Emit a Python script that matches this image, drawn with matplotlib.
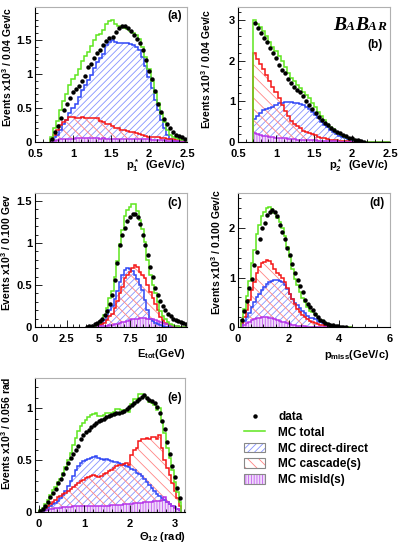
import numpy as np
import matplotlib
matplotlib.use("Agg")
import matplotlib.pyplot as plt
from matplotlib.lines import Line2D
from matplotlib.patches import Patch
from matplotlib.ticker import MultipleLocator, FuncFormatter

plt.rcParams['font.family'] = ['Liberation Sans', 'DejaVu Sans']
plt.rcParams['font.weight'] = 'bold'
plt.rcParams['mathtext.fontset'] = 'custom'
plt.rcParams['mathtext.rm'] = 'Liberation Sans:bold'
plt.rcParams['mathtext.it'] = 'Liberation Sans:italic:bold'
plt.rcParams['mathtext.bf'] = 'Liberation Sans:bold'
plt.rcParams['hatch.linewidth'] = 0.6

GREEN = '#5ee61e'
BLUE, BLUE_H = '#2f46f5', '#8592ff'
RED, RED_H = '#f51616', '#ff8585'
VIOL, VIOL_H = '#b634e8', '#c45ef0'

# ---- (a) p1*  : bins of 0.04 from 0.70
p1_lo, p1_w = 0.70, 0.04
p1_data = [0.05, 0.14, 0.23, 0.35, 0.47, 0.56, 0.65, 0.73, 0.78, 0.83,
           0.90, 0.97, 1.10, 1.15, 1.23, 1.31, 1.36, 1.42, 1.48, 1.53,
           1.55, 1.62, 1.67, 1.71, 1.70, 1.67, 1.63, 1.58, 1.52, 1.45,
           1.36, 1.20, 1.04, 0.92, 0.75, 0.56, 0.44, 0.34, 0.26, 0.20,
           0.15, 0.11, 0.09, 0.07, 0.05]
p1_dd = [0.04, 0.08, 0.10, 0.18, 0.26, 0.33, 0.42, 0.50, 0.56, 0.66,
         0.76, 0.84, 0.91, 0.99, 1.09, 1.17, 1.23, 1.30, 1.42, 1.47,
         1.50, 1.47, 1.45, 1.46, 1.46, 1.45, 1.44, 1.43, 1.40, 1.35,
         1.25, 1.12, 0.96, 0.79, 0.62, 0.47, 0.32, 0.20, 0.11, 0.05,
         0.02, 0.01, 0.0, 0.0, 0.0]
p1_casc = [0.03, 0.10, 0.18, 0.25, 0.30, 0.33, 0.37, 0.37, 0.36, 0.36,
           0.37, 0.36, 0.35, 0.36, 0.35, 0.35, 0.31, 0.29, 0.27, 0.26,
           0.24, 0.21, 0.20, 0.18, 0.17, 0.16, 0.15, 0.14, 0.13, 0.12,
           0.10, 0.09, 0.08, 0.08, 0.07, 0.07, 0.06, 0.06, 0.05, 0.04,
           0.04, 0.03, 0.03, 0.02, 0.02]
p1_misid = [0.01, 0.02, 0.03, 0.04, 0.04, 0.05, 0.05, 0.05, 0.06, 0.06,
            0.06, 0.06, 0.06, 0.06, 0.06, 0.06, 0.05, 0.06, 0.05, 0.05,
            0.05, 0.05, 0.05, 0.05, 0.05, 0.05, 0.04, 0.04, 0.04, 0.04,
            0.04, 0.04, 0.04, 0.03, 0.03, 0.03, 0.03, 0.03, 0.02, 0.02,
            0.02, 0.02, 0.01, 0.01, 0.01]

# ---- (b) p2*  : bins of 0.04 from 0.70
p2_lo, p2_w = 0.70, 0.04
p2_data = [2.92, 2.80, 2.69, 2.56, 2.45, 2.32, 2.20, 2.06, 1.90, 1.78,
           1.69, 1.56, 1.46, 1.35, 1.28, 1.24, 1.12, 1.02, 0.92, 0.82,
           0.72, 0.62, 0.54, 0.46, 0.41, 0.35, 0.30, 0.25, 0.21, 0.18,
           0.14, 0.11, 0.09, 0.06, 0.04, 0.02, 0.01, 0, 0, 0,
           0, 0, 0, 0, 0]
p2_dd = [0.57, 0.64, 0.72, 0.79, 0.82, 0.84, 0.87, 0.90, 0.95, 0.97,
         0.99, 0.99, 0.98, 0.97, 0.95, 0.94, 0.91, 0.87, 0.82, 0.73,
         0.66, 0.58, 0.50, 0.43, 0.36, 0.30, 0.24, 0.19, 0.15, 0.12,
         0.09, 0.07, 0.05, 0.03, 0.02, 0.01, 0, 0, 0, 0,
         0, 0, 0, 0, 0]
p2_casc = [2.20, 2.05, 1.93, 1.80, 1.65, 1.50, 1.35, 1.24, 1.07, 0.92,
           0.76, 0.63, 0.52, 0.45, 0.40, 0.34, 0.28, 0.24, 0.21, 0.19,
           0.16, 0.13, 0.10, 0.09, 0.07, 0.06, 0.05, 0.04, 0.03, 0.03,
           0.02, 0.02, 0.01, 0.01, 0.01, 0, 0, 0, 0, 0,
           0, 0, 0, 0, 0]
p2_misid = [0.22, 0.20, 0.17, 0.15, 0.14, 0.13, 0.12, 0.11, 0.10, 0.09,
            0.09, 0.08, 0.07, 0.07, 0.06, 0.06, 0.05, 0.05, 0.04, 0.04,
            0.04, 0.03, 0.03, 0.03, 0.02, 0.02, 0.02, 0.02, 0.01, 0.01,
            0.01, 0.01, 0.01, 0, 0, 0, 0, 0, 0, 0,
            0, 0, 0, 0, 0]

# ---- (c) Etot : bins of 0.2 from 4.0
et_lo, et_w = 4.0, 0.2
et_data = [0.003, 0.008, 0.015, 0.03, 0.045, 0.07, 0.10, 0.14, 0.19, 0.27,
           0.38, 0.56, 0.76, 0.98, 1.09, 1.18, 1.26, 1.31, 1.34, 1.35,
           1.31, 1.23, 1.10, 0.98, 0.86, 0.72, 0.59, 0.47, 0.38, 0.31,
           0.25, 0.20, 0.16, 0.13, 0.10, 0.085, 0.07, 0.055, 0.045, 0.04]
et_dd = [0, 0, 0.003, 0.006, 0.01, 0.02, 0.04, 0.08, 0.13, 0.20,
         0.25, 0.33, 0.43, 0.54, 0.62, 0.68, 0.70, 0.69, 0.67, 0.62,
         0.57, 0.50, 0.44, 0.32, 0.20, 0.10, 0.07, 0.05, 0.03, 0.02,
         0.01, 0.005, 0, 0, 0, 0, 0, 0, 0, 0]
et_casc = [0, 0, 0.002, 0.005, 0.01, 0.02, 0.03, 0.05, 0.08, 0.13,
           0.16, 0.23, 0.31, 0.40, 0.48, 0.58, 0.62, 0.66, 0.70, 0.74,
           0.71, 0.66, 0.62, 0.58, 0.50, 0.42, 0.34, 0.27, 0.20, 0.12,
           0.08, 0.05, 0.03, 0.02, 0.01, 0.005, 0, 0, 0, 0]
et_misid = [0, 0, 0, 0.002, 0.004, 0.006, 0.008, 0.01, 0.014, 0.018,
            0.022, 0.03, 0.04, 0.045, 0.055, 0.06, 0.07, 0.08, 0.09, 0.10,
            0.10, 0.11, 0.11, 0.11, 0.10, 0.10, 0.09, 0.08, 0.07, 0.055,
            0.045, 0.035, 0.03, 0.02, 0.015, 0.01, 0.006, 0.004, 0.002, 0.001]

# ---- (d) pmiss : bins of 0.1 from 0.1
pm_lo, pm_w = 0.1, 0.1
pm_data = [0.14, 0.32, 0.52, 0.78, 0.98, 1.25, 1.52, 1.78, 2.00, 2.10,
           2.26, 2.32, 2.36, 2.32, 2.24, 2.06, 1.93, 1.78, 1.60, 1.45,
           1.27, 1.10, 0.95, 0.82, 0.70, 0.55, 0.46, 0.40, 0.34, 0.26,
           0.20, 0.15, 0.12, 0.09, 0.07, 0.05, 0.04, 0.03, 0.02, 0.01,
           0.005, 0.003, 0, 0]
pm_dd = [0.04, 0.12, 0.20, 0.28, 0.40, 0.50, 0.60, 0.66, 0.74, 0.80,
         0.86, 0.90, 0.93, 0.95, 0.96, 0.94, 0.90, 0.84, 0.76, 0.67,
         0.57, 0.48, 0.44, 0.38, 0.33, 0.28, 0.23, 0.19, 0.18, 0.16,
         0.13, 0.10, 0.08, 0.06, 0.04, 0.03, 0.02, 0.01, 0.005, 0,
         0, 0, 0, 0]
pm_casc = [0.08, 0.20, 0.35, 0.55, 0.75, 0.90, 1.10, 1.22, 1.30, 1.32,
           1.35, 1.33, 1.27, 1.18, 1.10, 1.05, 1.00, 0.90, 0.78, 0.67,
           0.56, 0.46, 0.37, 0.30, 0.24, 0.20, 0.16, 0.13, 0.11, 0.09,
           0.07, 0.05, 0.04, 0.03, 0.02, 0.01, 0.01, 0.005, 0, 0,
           0, 0, 0, 0]
pm_misid = [0.02, 0.05, 0.08, 0.11, 0.14, 0.16, 0.18, 0.19, 0.20, 0.20,
            0.20, 0.19, 0.18, 0.17, 0.15, 0.13, 0.11, 0.10, 0.08, 0.07,
            0.05, 0.04, 0.03, 0.03, 0.02, 0.02, 0.01, 0.01, 0.005, 0.005,
            0, 0, 0, 0, 0, 0, 0, 0, 0, 0,
            0, 0, 0, 0]

# ---- (e) theta12 : bins of 0.056 from 0
th_lo, th_w = 0.0, 0.056
th_data = [0.01, 0.03, 0.06, 0.10, 0.14, 0.18, 0.22, 0.28, 0.32, 0.37,
           0.42, 0.47, 0.52, 0.56, 0.60, 0.64, 0.70, 0.74, 0.77, 0.79,
           0.82, 0.84, 0.86, 0.88, 0.89, 0.90, 0.91, 0.92, 0.93, 0.94,
           0.95, 0.95, 0.96, 0.97, 0.99, 1.01, 1.03, 1.05, 1.07, 1.09,
           1.11, 1.13, 1.10, 1.08, 1.07, 1.05, 1.01, 0.95, 0.88, 0.80,
           0.67, 0.56, 0.44, 0.34, 0.23, 0.13]
th_dd = [0.005, 0.01, 0.02, 0.04, 0.06, 0.08, 0.09, 0.11, 0.13, 0.16,
         0.20, 0.25, 0.30, 0.35, 0.40, 0.44, 0.47, 0.49, 0.50, 0.51,
         0.52, 0.53, 0.54, 0.52, 0.51, 0.50, 0.51, 0.50, 0.49, 0.48,
         0.48, 0.47, 0.46, 0.45, 0.44, 0.43, 0.41, 0.40, 0.38, 0.37,
         0.35, 0.32, 0.29, 0.26, 0.23, 0.20, 0.17, 0.15, 0.13, 0.12,
         0.10, 0.08, 0.06, 0.05, 0.03, 0.02]
th_casc = [0.01, 0.02, 0.04, 0.06, 0.08, 0.10, 0.12, 0.14, 0.15, 0.17,
           0.18, 0.20, 0.22, 0.24, 0.26, 0.28, 0.30, 0.31, 0.33, 0.34,
           0.35, 0.36, 0.35, 0.34, 0.35, 0.37, 0.38, 0.39, 0.40, 0.42,
           0.44, 0.45, 0.45, 0.46, 0.47, 0.45, 0.55, 0.60, 0.62, 0.68,
           0.70, 0.70, 0.71, 0.70, 0.72, 0.72, 0.70, 0.74, 0.62, 0.50,
           0.42, 0.36, 0.28, 0.20, 0.13, 0.06]
th_misid = [0.005, 0.01, 0.015, 0.02, 0.025, 0.03, 0.035, 0.04, 0.04, 0.045,
            0.05, 0.05, 0.05, 0.055, 0.055, 0.06, 0.06, 0.06, 0.06, 0.06,
            0.06, 0.055, 0.06, 0.06, 0.06, 0.06, 0.06, 0.06, 0.065, 0.065,
            0.07, 0.07, 0.07, 0.075, 0.075, 0.08, 0.08, 0.085, 0.085, 0.09,
            0.09, 0.095, 0.10, 0.10, 0.10, 0.11, 0.11, 0.11, 0.12, 0.14,
            0.10, 0.08, 0.06, 0.04, 0.03, 0.02]

W, H = 398, 545


def px(x, y):
    return x / W, 1 - y / H


fmt = FuncFormatter(lambda v, p: '%g' % round(v, 3))


def draw(ax, lo, w, data, dd, casc, misid):
    data, dd, casc, misid = map(np.asarray, (data, dd, casc, misid))
    edges = lo + w * np.arange(len(data) + 1)
    centers = edges[:-1] + w / 2
    total = dd + casc + misid
    ax.stairs(dd, edges, fill=True, facecolor='white', edgecolor=BLUE_H,
              hatch='/////', lw=0)
    ax.stairs(casc, edges, fill=True, facecolor='none', edgecolor=RED_H,
              hatch='\\\\\\', lw=0)
    ax.stairs(misid, edges, fill=True, color='#f0dcfa', lw=0)
    ax.stairs(misid, edges, fill=True, facecolor='none', edgecolor=VIOL_H,
              hatch='||||||', lw=0)
    ax.stairs(dd, edges, color=BLUE, lw=1.1)
    ax.stairs(casc, edges, color=RED, lw=1.1)
    ax.stairs(misid, edges, color=VIOL, lw=1.1)
    ax.stairs(total, edges, color=GREEN, lw=1.1)
    m = data > 0
    ax.plot(centers[m], data[m], 'o', color='black', ms=3.2, mew=0, zorder=5)


def style(ax, xlim, ylim, xmaj, xmin, ymaj, ymin):
    ax.set_xlim(*xlim)
    ax.set_ylim(*ylim)
    ax.xaxis.set_major_locator(MultipleLocator(xmaj))
    ax.xaxis.set_minor_locator(MultipleLocator(xmin))
    ax.yaxis.set_major_locator(MultipleLocator(ymaj))
    ax.yaxis.set_minor_locator(MultipleLocator(ymin))
    ax.xaxis.set_major_formatter(fmt)
    ax.yaxis.set_major_formatter(fmt)
    ax.tick_params(which='both', direction='in', top=False, right=False,
                   labelsize=8, width=0.6)
    ax.tick_params(which='major', length=5)
    ax.tick_params(which='minor', length=2.5)
    ax.tick_params(axis='x', pad=5)
    ax.tick_params(axis='y', pad=2)
    for s in ('left', 'bottom'):
        ax.spines[s].set_linewidth(0.8)
    for s in ('top', 'right'):
        ax.spines[s].set_color('#b0b0b0')
        ax.spines[s].set_linewidth(0.8)
    for s in ax.spines.values():
        s.set_zorder(6)


fig = plt.figure(figsize=(W / 100, H / 100), dpi=100)

ax_a = fig.add_axes([35 / W, 1 - 142 / H, 152 / W, 135 / H])
draw(ax_a, p1_lo, p1_w, p1_data, p1_dd, p1_casc, p1_misid)
style(ax_a, (0.5, 2.5), (0, 1.985), 0.5, 0.1, 0.5, 0.1)

ax_b = fig.add_axes([238 / W, 1 - 142 / H, 152 / W, 135 / H])
draw(ax_b, p2_lo, p2_w, p2_data, p2_dd, p2_casc, p2_misid)
style(ax_b, (0.5, 2.5), (0, 3.32), 0.5, 0.1, 1, 0.2)

ax_c = fig.add_axes([35 / W, 1 - 327 / H, 152 / W, 134 / H])
draw(ax_c, et_lo, et_w, et_data, et_dd, et_casc, et_misid)
style(ax_c, (0, 12), (0, 1.595), 2.5, 0.5, 0.5, 0.1)

ax_d = fig.add_axes([238 / W, 1 - 327 / H, 152 / W, 134 / H])
draw(ax_d, pm_lo, pm_w, pm_data, pm_dd, pm_casc, pm_misid)
style(ax_d, (0, 6), (0, 2.71), 2, 0.5, 1, 0.2)

ax_e = fig.add_axes([35 / W, 1 - 512 / H, 150 / W, 134 / H])
draw(ax_e, th_lo, th_w, th_data, th_dd, th_casc, th_misid)
style(ax_e, (-0.09, 3.22), (0, 1.29), 1, 0.2, 0.5, 0.1)

# axis titles
ylabels = [(7, 7, 'Events x10$^3$ / 0.04 Gev/c'),
           (206, 9, 'Events x10$^3$ / 0.04 Gev/c'),
           (6, 193, 'Events x10$^3$ / 0.100 Gev'),
           (216, 189, 'Events x10$^3$ / 0.100 Gev/c'),
           (6, 376, 'Events x10$^3$ / 0.056 rad')]
for x, y, s in ylabels:
    fig.text(*px(x, y), s, rotation=90, ha='center', va='top', fontsize=7.5)

xlabels = [(186, 166, 'p$_1^*$  (GeV/c)'),
           (389, 166, 'p$_2^*$  (GeV/c)'),
           (186, 354, 'E$_{\\rm tot}$(GeV)'),
           (389, 355, 'p$_{\\rm miss}$(GeV/c)'),
           (186, 537, '\u0398$_{12}$ (rad)')]
for x, y, s in xlabels:
    fig.text(*px(x, y), s, ha='right', va='center', fontsize=8)

for x, y, s in [(182, 16, '(a)'), (383, 45, '(b)'), (182, 203, '(c)'),
                (385, 203, '(d)'), (182, 398, '(e)')]:
    fig.text(*px(x, y), s, ha='right', va='center', fontsize=8.5)

# BaBar logo
renderer = fig.canvas.get_renderer()
xl, yl = px(333, 30)
for ch, sz in [('B', 14), ('A', 9.5), ('B', 14), ('A', 9.5), ('R', 9.5)]:
    t = fig.text(xl, yl, ch, fontsize=sz, family='Liberation Serif',
                 style='italic', weight='bold', va='baseline')
    bb = t.get_window_extent(renderer)
    xl = bb.x1 / fig.bbox.width

# legend
handles = [
    Line2D([], [], ls='none', marker='o', color='black', ms=3.2, mew=0),
    Line2D([], [], color=GREEN, lw=1.1),
    (Patch(facecolor='white', edgecolor=BLUE_H, hatch='/////', lw=0),
     Patch(facecolor='none', edgecolor='#888888', lw=0.8)),
    (Patch(facecolor='white', edgecolor=RED_H, hatch='\\\\\\', lw=0),
     Patch(facecolor='none', edgecolor='#888888', lw=0.8)),
    (Patch(facecolor='#f0dcfa', edgecolor=VIOL_H, hatch='||||||', lw=0),
     Patch(facecolor='none', edgecolor='#888888', lw=0.8)),
]
labels = ['data', 'MC total', 'MC direct-direct', 'MC cascade(s)', 'MC misId(s)']
fig.legend(handles, labels, loc='upper left', bbox_to_anchor=px(244, 411),
           frameon=False, fontsize=8.5, handlelength=1.8, handleheight=0.9,
           handletextpad=1.1, labelspacing=0.32, borderpad=0, borderaxespad=0)

fig.savefig('out.png', dpi=100)
